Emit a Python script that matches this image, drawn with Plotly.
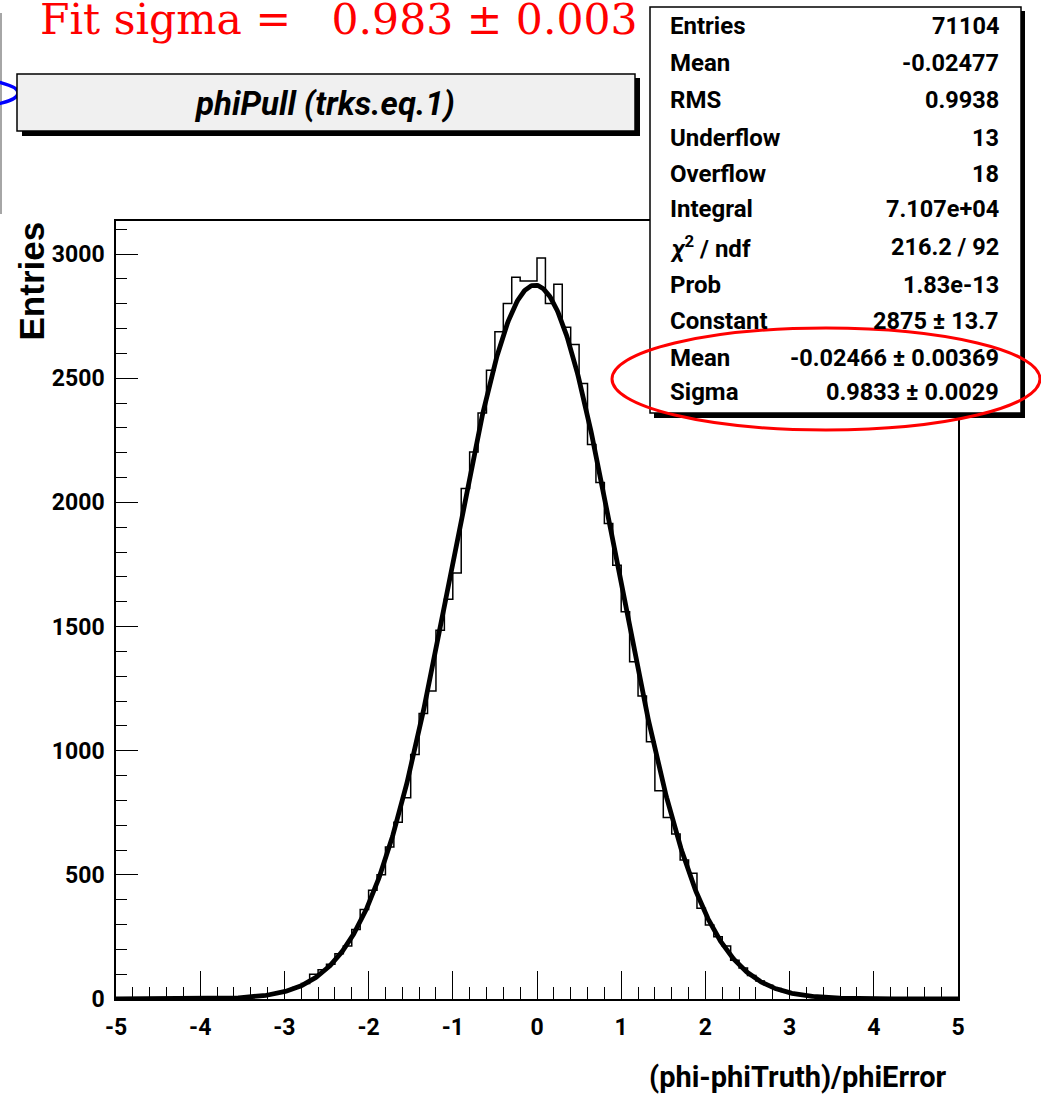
import numpy as np
import plotly.graph_objects as go

# ---------------- data ----------------
bin_lo, bin_hi = -5.0, 5.0
counts = [
    0, 1, 0, 1, 0, 1, 0, 1, 1, 1,
    2, 1, 3, 4, 5, 8, 10, 15, 20, 27,
    35, 46, 62, 100, 118, 140, 182, 213, 280, 360,
    438, 500, 612, 712, 810, 985, 1150, 1240, 1485, 1610,
    1716, 2056, 2203, 2360, 2532, 2687, 2801, 2906, 2891, 2891,
    2984, 2801, 2878, 2705, 2636, 2479, 2233, 2080, 1915, 1747,
    1559, 1358, 1220, 1036, 839, 731, 664, 560, 506, 365,
    298, 251, 213, 156, 125, 95, 72, 55, 42, 30,
    22, 16, 12, 9, 6, 4, 3, 2, 2, 1,
    1, 1, 0, 1, 0, 1, 0, 1, 0, 1,
]
fit_constant = 2875.0
fit_mean = -0.02466
fit_sigma = 0.9833

stat_labels = ["Entries", "Mean", "RMS", "Underflow", "Overflow", "Integral",
               "<i>χ</i><sup>2</sup> / ndf", "Prob", "Constant", "Mean", "Sigma"]
stat_values = ["71104", "-0.02477", "0.9938", "13", "18", "7.107e+04",
               "216.2 / 92", "1.83e-13", "2875 ± 13.7", "-0.02466 ± 0.00369",
               "0.9833 ± 0.0029"]
x_ticks = [-5, -4, -3, -2, -1, 0, 1, 2, 3, 4, 5]
y_ticks = [0, 500, 1000, 1500, 2000, 2500, 3000]
title_text = "phiPull (trks.eq.1)"
fit_text = "Fit sigma =   0.983 ± 0.003"
x_title = "(phi-phiTruth)/phiError"
y_title = "Entries"

# ---------------- layout geometry ----------------
W, H = 1041, 1103
L, R, T, B = 116, 958, 221, 999  # plot frame in pixels


def px(x):
    return (x - L) / (R - L)


def py(y):
    return (B - y) / (B - T)


NARROW = "Roboto, Liberation Sans, sans-serif"

edges = np.linspace(bin_lo, bin_hi, len(counts) + 1)
hist_y = list(counts) + [counts[-1]]

xs = np.linspace(bin_lo, bin_hi, 1001)
ys = fit_constant * np.exp(-0.5 * ((xs - fit_mean) / fit_sigma) ** 2)

fig = go.Figure()
fig.add_trace(go.Scatter(x=edges, y=hist_y, mode="lines", line=dict(color="black", width=1.5, shape="hv"),
                         hoverinfo="skip", showlegend=False))
fig.add_trace(go.Scatter(x=xs, y=ys, mode="lines", line=dict(color="black", width=4.8),
                         hoverinfo="skip", showlegend=False))

shapes = []
# left grey line (edge of neighbouring pad)
shapes.append(dict(type="line", xref="paper", yref="paper", x0=px(1), x1=px(1), y0=py(13), y1=py(214),
                   line=dict(color="#888888", width=1.5), layer="above"))
# blue ellipse fragment
shapes.append(dict(type="circle", xref="paper", yref="paper", x0=px(-90), x1=px(18), y0=py(107), y1=py(79),
                   line=dict(color="blue", width=3.5), layer="above"))
# title box shadow + box
shapes.append(dict(type="rect", xref="paper", yref="paper", x0=px(22), x1=px(640), y0=py(136), y1=py(78),
                   fillcolor="black", line=dict(width=0), layer="above"))
shapes.append(dict(type="rect", xref="paper", yref="paper", x0=px(17), x1=px(635), y0=py(131), y1=py(74),
                   fillcolor="#f0f0f0", line=dict(color="black", width=1.5), layer="above"))
# stats box shadow + box
shapes.append(dict(type="rect", xref="paper", yref="paper", x0=px(654), x1=px(1025), y0=py(418), y1=py(11),
                   fillcolor="black", line=dict(width=0), layer="above"))
shapes.append(dict(type="rect", xref="paper", yref="paper", x0=px(650), x1=px(1021), y0=py(413), y1=py(7),
                   fillcolor="white", line=dict(color="black", width=1.5), layer="above"))
# red ellipse
shapes.append(dict(type="circle", xref="paper", yref="paper", x0=px(612), x1=px(1040), y0=py(430), y1=py(328),
                   line=dict(color="red", width=3), layer="above"))

annotations = []
annotations.append(dict(text=fit_text, xref="paper", yref="paper", x=px(38), y=py(19), xanchor="left",
                        yanchor="middle", showarrow=False,
                        font=dict(family="DejaVu Serif", size=42.5, color="red")))
annotations.append(dict(text=title_text, xref="paper", yref="paper", x=px(324), y=py(104), xanchor="center",
                        yanchor="middle", showarrow=False,
                        font=dict(family=NARROW, size=33, color="black", weight="bold", style="italic")))
row_y = [26, 63, 100, 138, 174, 209, 247, 285, 321, 358, 392]
for lab, val, ry in zip(stat_labels, stat_values, row_y):
    annotations.append(dict(text=lab, xref="paper", yref="paper", x=px(668), y=py(ry), xanchor="left",
                            yanchor="middle", showarrow=False,
                            font=dict(family=NARROW, size=24, color="black", weight="bold")))
    annotations.append(dict(text=val, xref="paper", yref="paper", x=px(1001), y=py(ry), xanchor="right",
                            yanchor="middle", showarrow=False,
                            font=dict(family=NARROW, size=23.5, color="black", weight="bold")))
annotations.append(dict(text=x_title, xref="paper", yref="paper", x=px(949), y=py(1077), xanchor="right",
                        yanchor="middle", showarrow=False,
                        font=dict(family=NARROW, size=29, color="black", weight="bold")))
annotations.append(dict(text=y_title, xref="paper", yref="paper", x=px(31), y=py(220), xanchor="center",
                        yanchor="top", showarrow=False, textangle=-90,
                        font=dict(family="Liberation Sans", size=35, color="black", weight="bold")))

tickfont = dict(family=NARROW, size=23, color="black", weight="bold")
fig.update_layout(
    width=W, height=H,
    margin=dict(l=L, r=W - R, t=T, b=H - B, pad=0),
    paper_bgcolor="white", plot_bgcolor="white",
    shapes=shapes, annotations=annotations,
    xaxis=dict(range=[bin_lo, bin_hi], tickvals=x_ticks, ticktext=[str(v) for v in x_ticks],
               ticks="inside", ticklen=28, tickwidth=1.3, tickcolor="black",
               minor=dict(ticks="inside", ticklen=12, tickwidth=1.3, tickcolor="black", dtick=0.2, tick0=0,
                          showgrid=False),
               showgrid=False, zeroline=False, showline=True, linecolor="black", linewidth=1.5, mirror=True,
               tickfont=tickfont, ticklabelstandoff=7),
    yaxis=dict(range=[0, 3133], tickvals=y_ticks, ticktext=[str(v) for v in y_ticks],
               ticks="inside", ticklen=22, tickwidth=1.3, tickcolor="black",
               minor=dict(ticks="inside", ticklen=11, tickwidth=1.3, tickcolor="black", dtick=100, tick0=0,
                          showgrid=False),
               showgrid=False, zeroline=False, showline=True, linecolor="black", linewidth=1.5, mirror=True,
               tickfont=tickfont, ticklabelstandoff=5),
)

fig.write_html("out.html")
